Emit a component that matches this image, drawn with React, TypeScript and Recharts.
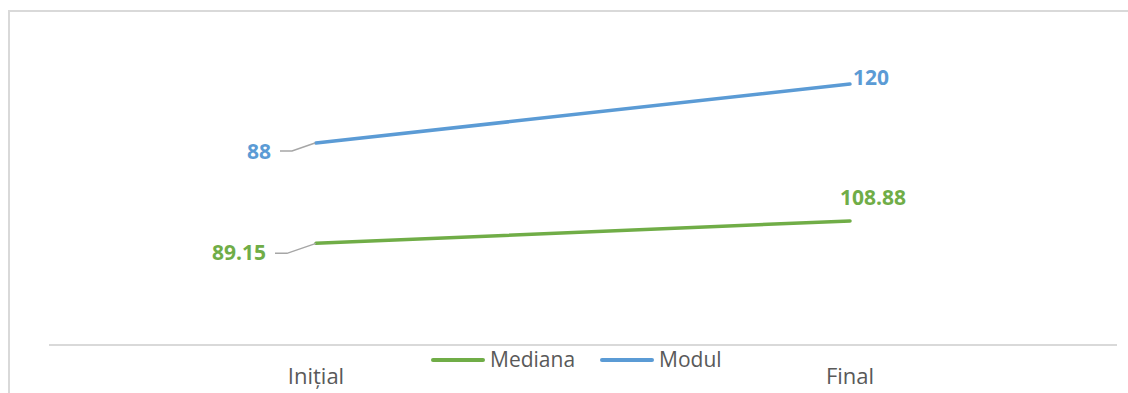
import React from 'react';
import { LineChart, Line, XAxis, YAxis, Legend, LabelList } from 'recharts';

const categories = ['Inițial', 'Final'];
const medianaValues = [89.15, 108.88];
const modulValues = [88, 120];
const seriesNames = ['Mediana', 'Modul'];
const seriesColors = ['#70AD47', '#5B9BD5'];

// Excel "stacked line" chart: Modul is drawn on top of Mediana
const data = categories.map((cat, i) => ({
  cat,
  mediana: medianaValues[i],
  modul: modulValues[i],
  modulStack: medianaValues[i] + modulValues[i],
}));

const FONT = "'Open Sans', 'Noto Sans', sans-serif";
const TEXT_GRAY = '#595959';
const LEADER = '#a6a6a6';
const BORDER = '#d9d9d9';

const CategoryTick = (props: any) => {
  const { x, y, payload } = props;
  return (
    <text x={x} y={y + 39} textAnchor="middle" fontFamily={FONT} fontSize={22} fill={TEXT_GRAY}>
      {payload.value}
    </text>
  );
};

const medianaLabel = (props: any) => {
  const { x, y, value, index } = props;
  if (index === 0) {
    return (
      <g>
        <path d={`M${x},${y} L${x - 29},${y + 10} L${x - 41},${y + 10}`} stroke={LEADER} strokeWidth={1.5} fill="none" />
        <text x={x - 50} y={y + 17} textAnchor="end" fontFamily={FONT} fontSize={21} fontWeight={700} fill={seriesColors[0]}>
          {value}
        </text>
      </g>
    );
  }
  return (
    <text x={x + 23} y={y - 16} textAnchor="middle" fontFamily={FONT} fontSize={21} fontWeight={700} fill={seriesColors[0]}>
      {value}
    </text>
  );
};

const modulLabel = (props: any) => {
  const { x, y, value, index } = props;
  if (index === 0) {
    return (
      <g>
        <path d={`M${x - 1},${y} L${x - 24},${y + 8} L${x - 36},${y + 8}`} stroke={LEADER} strokeWidth={1.5} fill="none" />
        <text x={x - 45} y={y + 16} textAnchor="end" fontFamily={FONT} fontSize={21} fontWeight={700} fill={seriesColors[1]}>
          {value}
        </text>
      </g>
    );
  }
  return (
    <text x={x + 3} y={y + 1} textAnchor="start" fontFamily={FONT} fontSize={21} fontWeight={700} fill={seriesColors[1]}>
      {value}
    </text>
  );
};

const LegendContent = (props: any) => {
  const { payload } = props;
  return (
    <div style={{ display: 'flex', alignItems: 'center' }}>
      {(payload || []).map((p: any, i: number) => (
        <div key={i} style={{ display: 'flex', alignItems: 'center', marginRight: 25 }}>
          <div style={{ width: 54, height: 4, borderRadius: 2, background: p.color, marginRight: 5 }} />
          <span style={{ fontFamily: FONT, fontSize: 21, lineHeight: '21px', color: TEXT_GRAY }}>{p.value}</span>
        </div>
      ))}
    </div>
  );
};

export default function App() {
  return (
    <div style={{ position: 'relative', width: 1128, height: 393, overflow: 'hidden', background: '#fff' }}>
      <style>{'html,body{margin:0;padding:0;overflow:hidden;}'}</style>
      <div style={{ position: 'absolute', left: 8, top: 10, width: 1200, height: 2, background: BORDER }} />
      <div style={{ position: 'absolute', left: 8, top: 10, width: 2, height: 400, background: BORDER }} />
      <div style={{ position: 'absolute', left: 0, top: 0 }}>
        <LineChart width={1128} height={393} data={data} margin={{ top: 60, right: 11, bottom: 0, left: 49 }}>
          <XAxis
            dataKey="cat"
            height={48}
            padding={{ left: 267, right: 267 }}
            axisLine={{ stroke: BORDER, strokeWidth: 2 }}
            tickLine={false}
            tickSize={0}
            tickMargin={0}
            tick={<CategoryTick />}
            interval={0}
          />
          <YAxis hide domain={[0, 250]} />
          <Legend
            verticalAlign="middle"
            layout="horizontal"
            wrapperStyle={{ top: 349, left: 431, width: 'auto' }}
            content={<LegendContent />}
          />
          <Line
            name={seriesNames[0]}
            dataKey="mediana"
            stroke={seriesColors[0]}
            strokeWidth={3.5}
            strokeLinecap="round"
            dot={false}
            activeDot={false}
            isAnimationActive={false}
          >
            <LabelList dataKey="mediana" content={medianaLabel} />
          </Line>
          <Line
            name={seriesNames[1]}
            dataKey="modulStack"
            stroke={seriesColors[1]}
            strokeWidth={3.5}
            strokeLinecap="round"
            dot={false}
            activeDot={false}
            isAnimationActive={false}
          >
            <LabelList dataKey="modul" content={modulLabel} />
          </Line>
        </LineChart>
      </div>
    </div>
  );
}
